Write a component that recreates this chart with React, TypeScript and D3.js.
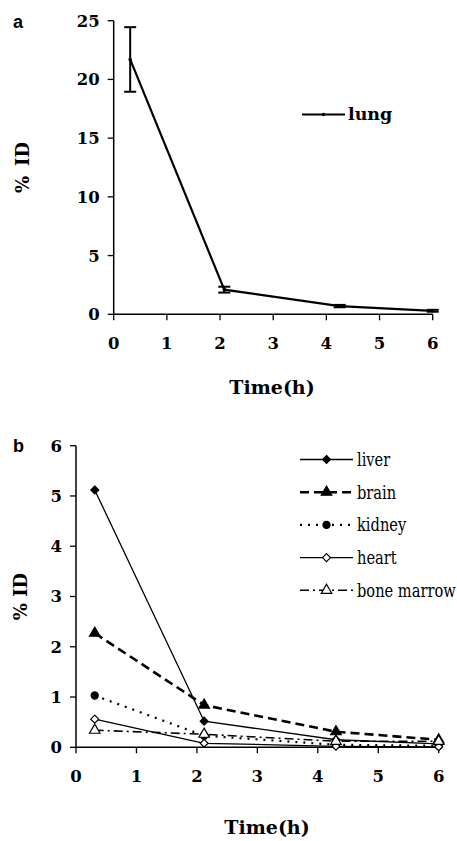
import React from 'react';
import * as d3 from 'd3';

// panel a
const timesA = [0.31, 2.08, 4.25, 6.0];
const lung = [21.7, 2.1, 0.7, 0.3];
const lungErr = [2.75, 0.25, 0.1, 0.08];

// panel b
const timesB = [0.31, 2.12, 4.3, 6.0];
const liver = [5.12, 0.52, 0.15, 0.07];
const brain = [2.27, 0.84, 0.31, 0.15];
const kidney = [1.03, 0.23, 0.05, 0.03];
const heart = [0.56, 0.08, 0.02, 0.01];
const boneMarrow = [0.34, 0.26, 0.12, 0.12];

const xTicks = [0, 1, 2, 3, 4, 5, 6];
const yTicksA = [0, 5, 10, 15, 20, 25];
const yTicksB = [0, 1, 2, 3, 4, 5, 6];

// Liberation Serif is not picked up here, DejaVu Serif is
const serif = "'DejaVu Serif', serif";
const sans = "'Liberation Sans', Arial, sans-serif";

type Series = {
  name: string;
  values: number[];
  dash: string;
  width: number;
  symbol: d3.SymbolType;
  size: number;
  filled: boolean;
};

const seriesB: Series[] = [
  { name: 'liver', values: liver, dash: '', width: 1.3, symbol: d3.symbolDiamond2, size: 40, filled: true },
  { name: 'brain', values: brain, dash: '9,5', width: 2.6, symbol: d3.symbolTriangle, size: 48, filled: true },
  { name: 'kidney', values: kidney, dash: '2,6', width: 2.2, symbol: d3.symbolCircle, size: 40, filled: true },
  { name: 'heart', values: heart, dash: '', width: 1.3, symbol: d3.symbolDiamond2, size: 40, filled: false },
  { name: 'bone marrow', values: boneMarrow, dash: '9,4,2,4', width: 1.6, symbol: d3.symbolTriangle, size: 48, filled: false },
];

const Axes = ({ x, y, yTicks }: { x: d3.ScaleLinear<number, number>; y: d3.ScaleLinear<number, number>; yTicks: number[] }) => {
  const [x0, x1] = x.range();
  const [y0, y1] = y.range();
  return (
    <g>
      <line x1={x0} x2={x0} y1={y0} y2={y1} stroke="#000" strokeWidth={1.5} />
      <line x1={x0} x2={x1} y1={y0} y2={y0} stroke="#000" strokeWidth={1.5} />
      {yTicks.map(t => (
        <g key={'y' + t}>
          <line x1={x0 - 6} x2={x0} y1={y(t)} y2={y(t)} stroke="#000" strokeWidth={1.3} />
          <text x={x0 - 14} y={y(t)} dy="0.36em" textAnchor="end" fontFamily={serif} fontWeight="bold" fontSize={16.5}>{t}</text>
        </g>
      ))}
      {xTicks.map(t => (
        <g key={'x' + t}>
          <line x1={x(t)} x2={x(t)} y1={y0} y2={y0 + 6} stroke="#000" strokeWidth={1.3} />
          <text x={x(t)} y={y0 + 35} textAnchor="middle" fontFamily={serif} fontWeight="bold" fontSize={16.5}>{t}</text>
        </g>
      ))}
    </g>
  );
};

export default function App() {
  // panel a scales
  const xA = d3.scaleLinear().domain([0, 6]).range([113.7, 432.7]);
  const yA = d3.scaleLinear().domain([0, 25]).range([314.3, 20.7]);
  // panel b scales
  const xB = d3.scaleLinear().domain([0, 6]).range([76, 438.7]);
  const yB = d3.scaleLinear().domain([0, 6]).range([747.3, 445.7]);

  const lineA = d3.line<number>().x((_, i) => xA(timesA[i])).y(d => yA(d));
  const lineB = d3.line<number>().x((_, i) => xB(timesB[i])).y(d => yB(d));

  const legendX0 = 300;
  const legendX1 = 353;

  return (
    <svg width={457} height={841} style={{ position: 'absolute', left: 0, top: 0, background: '#fff' }}>
      {/* panel a */}
      <text x={13} y={28} fontFamily={sans} fontWeight="bold" fontSize={18}>a</text>
      <Axes x={xA} y={yA} yTicks={yTicksA} />
      <text transform={`translate(29,${(yA.range()[0] + yA.range()[1]) / 2}) rotate(-90)`} textAnchor="middle"
        fontFamily={serif} fontWeight="bold" fontSize={18}>%<tspan dx={10}>ID</tspan></text>
      <text x={272} y={394} textAnchor="middle" fontFamily={serif} fontWeight="bold" fontSize={19}>Time(h)</text>
      <path d={lineA(lung) ?? ''} fill="none" stroke="#000" strokeWidth={2.2} />
      {lung.map((v, i) => {
        const cx = xA(timesA[i]);
        const lo = yA(v - lungErr[i]);
        const hi = yA(v + lungErr[i]);
        return (
          <g key={'e' + i} stroke="#000" strokeWidth={2}>
            <line x1={cx} x2={cx} y1={lo} y2={hi} />
            <line x1={cx - 6} x2={cx + 6} y1={lo} y2={lo} />
            <line x1={cx - 6} x2={cx + 6} y1={hi} y2={hi} />
            <circle cx={cx} cy={yA(v)} r={1.8} fill="#000" stroke="none" />
          </g>
        );
      })}
      <line x1={302} x2={345} y1={114.5} y2={114.5} stroke="#000" strokeWidth={2.2} />
      <circle cx={323.5} cy={114.5} r={1.8} fill="#000" />
      <text x={348} y={120} fontFamily={serif} fontWeight="bold" fontSize={17.5}>lung</text>

      {/* panel b */}
      <text x={13} y={452} fontFamily={sans} fontWeight="bold" fontSize={18}>b</text>
      <Axes x={xB} y={yB} yTicks={yTicksB} />
      <text transform={`translate(27,${(yB.range()[0] + yB.range()[1]) / 2}) rotate(-90)`} textAnchor="middle"
        fontFamily={serif} fontWeight="bold" fontSize={18}>% ID</text>
      <text x={267} y={834} textAnchor="middle" fontFamily={serif} fontWeight="bold" fontSize={19}>Time(h)</text>
      {seriesB.map(s => (
        <g key={s.name}>
          <path d={lineB(s.values) ?? ''} fill="none" stroke="#000" strokeWidth={s.width} strokeDasharray={s.dash || undefined} />
          {s.values.map((v, i) => (
            <path key={i} d={d3.symbol().type(s.symbol).size(s.size)() ?? ''}
              transform={`translate(${xB(timesB[i])},${yB(v)})`}
              fill={s.filled ? '#000' : '#fff'} stroke="#000" strokeWidth={1.2} />
          ))}
        </g>
      ))}
      {seriesB.map((s, i) => {
        const ly = 459.5 + i * 32.7;
        return (
          <g key={'lg' + s.name}>
            <line x1={legendX0} x2={legendX1} y1={ly} y2={ly} stroke="#000" strokeWidth={s.width} strokeDasharray={s.dash || undefined} />
            <path d={d3.symbol().type(s.symbol).size(s.size)() ?? ''} transform={`translate(${(legendX0 + legendX1) / 2},${ly})`}
              fill={s.filled ? '#000' : '#fff'} stroke="#000" strokeWidth={1.2} />
            <text transform={`translate(357,${ly + 6.5}) scale(0.77,1)`} fontFamily={serif} fontSize={19}>{s.name}</text>
          </g>
        );
      })}
    </svg>
  );
}
